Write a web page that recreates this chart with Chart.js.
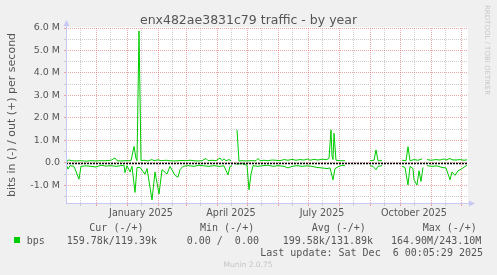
<!DOCTYPE html>
<html>
<head>
<meta charset="utf-8">
<script src="https://cdn.jsdelivr.net/npm/chart.js@4/dist/chart.umd.min.js"></script>
<style>
  html, body { margin: 0; padding: 0; background: #f0f0f0; }
  #wrap { width: 497px; height: 275px; position: relative; }
</style>
</head>
<body>
<div id="wrap"><canvas id="chartTraffic" width="497" height="275"></canvas></div>
<script>
// days counted from 1 Nov 2024 (munin "year" = 400 days)
const monthStarts = [30, 61, 92, 120, 151, 181, 212, 242, 273, 304, 334, 365, 395];
const midMonths = [14, 44, 75, 106, 134, 165, 195, 226, 256, 287, 318, 348, 379];
const labelDays = [75, 165, 256, 348];
const labelNames = ['January 2025', 'April 2025', 'July 2025', 'October 2025'];
// y grid in millions; whole numbers get a label
const yTicks = [-1.5, -1.0, -0.5, 0, 0.5, 1.0, 1.5, 2.0, 2.5, 3.0, 3.5, 4.0, 4.5, 5.0, 5.5, 6.0];

// out (+), in millions of bits per second, null = no data
const outDays = [0, 1, 3, 5, 10, 15, 20, 25, 30, 35, 40, 45, 49, 51, 55, 60, 65, 68, 70, 71, 73, 75, 78, 82, 86, 88, 92, 95, 100, 104, 108, 112, 116, 120, 124, 128, 132, 136, 140, 142, 146, 150, 154, 156, 158, 160, 163, 165, 168, 171, 173, 175, 180, 185, 190, 192, 194, 198, 202, 206, 210, 214, 218, 222, 226, 230, 234, 238, 242, 244, 248, 252, 256, 260, 263, 265, 266, 267, 268, 270, 274, 279, 290, 304, 308, 310, 312, 316, 325, 336, 340, 342, 344, 348, 352, 356, 358, 361, 365, 370, 374, 378, 380, 384, 386, 390, 394, 398, 401];
const outVals = [0.15, 0.08, 0.14, 0.10, 0.09, 0.10, 0.08, 0.10, 0.09, 0.10, 0.10, 0.12, 0.22, 0.10, 0.09, 0.10, 0.10, 0.73, 0.20, 0.10, 5.87, 0.10, 0.12, 0.09, 0.15, 0.10, 0.14, 0.10, 0.12, 0.10, 0.09, 0.10, 0.11, 0.10, 0.12, 0.10, 0.09, 0.10, 0.20, 0.10, 0.12, 0.10, 0.22, 0.10, 0.18, 0.10, 0.15, 0.10, null, 1.47, 0.08, 0.10, 0.09, 0.10, 0.10, 0.20, 0.10, 0.12, 0.10, 0.13, 0.12, 0.10, 0.15, 0.12, 0.16, 0.12, 0.15, 0.13, 0.18, 0.12, 0.16, 0.13, 0.17, 0.14, 0.20, 1.47, 0.30, 0.15, 1.32, 0.12, 0.10, 0.10, null, 0.10, 0.12, 0.58, 0.10, 0.10, null, 0.12, 0.10, 0.72, 0.10, 0.15, 0.12, 0.18, null, 0.15, 0.12, 0.15, 0.13, 0.18, 0.13, 0.20, 0.14, 0.13, 0.15, 0.12, 0.14];

// in (-), drawn below zero
const inDays = [0, 2, 4, 8, 13, 15, 20, 25, 30, 35, 40, 45, 50, 55, 58, 59, 61, 64, 66, 69, 71, 74, 79, 81, 86, 89, 93, 96, 101, 104, 109, 112, 114, 117, 122, 128, 133, 138, 143, 148, 153, 158, 162, 164, 166, 168, 170, 176, 181, 183, 185, 187, 192, 197, 202, 207, 212, 218, 222, 226, 231, 236, 241, 246, 251, 256, 261, 264, 267, 269, 273, 276, 279, 290, 304, 307, 310, 312, 316, 325, 336, 339, 342, 344, 347, 348, 351, 353, 355, 357, 358, 361, 366, 371, 376, 380, 384, 386, 389, 392, 396, 401];
const inVals = [-0.05, -0.27, -0.12, -0.15, -0.72, -0.15, -0.13, -0.15, -0.18, -0.10, -0.14, -0.12, -0.15, -0.12, -0.10, -0.43, -0.12, -0.40, -0.15, -1.31, -0.20, -0.20, -0.50, -0.25, -1.64, -0.40, -1.38, -0.30, -0.49, -0.15, -0.55, -0.63, -0.30, -0.15, -0.12, -0.15, -0.10, -0.13, -0.15, -0.12, -0.15, -0.13, -0.53, -0.15, -0.12, null, -0.05, -0.03, -0.10, -1.19, -0.50, -0.12, -0.15, -0.12, -0.10, -0.15, -0.12, -0.15, -0.22, -0.15, -0.12, -0.15, -0.13, -0.15, -0.20, -0.22, -0.25, -0.22, -0.75, -0.25, -0.15, -0.10, -0.12, null, -0.12, -0.15, -0.30, -0.15, -0.12, null, -0.15, -0.20, -0.98, -0.15, -0.25, -0.75, -0.98, -0.35, -0.82, -0.20, null, -0.12, -0.15, -0.13, -0.20, -0.22, -0.75, -0.40, -0.55, -0.35, -0.25, -0.10];

const legendHead = ['Cur (-/+)', 'Min (-/+)', 'Avg (-/+)', 'Max (-/+)'];
const legendVals = ['159.78k/119.39k', '0.00 /  0.00', '199.58k/131.89k', '164.90M/243.10M'];

const toPoints = (days, vals) => days.map((d, i) => ({ x: d, y: vals[i] == null ? null : vals[i] * 1e6 }));
const isWholeM = v => Math.abs(Math.round(v / 1e6) * 1e6 - v) < 1;

const AXIS = '#c8c8f4';
const MAJOR = 'rgba(225,110,110,0.6)';
const MINOR = 'rgba(195,195,195,0.85)';
const SANS = '"DejaVu Sans", sans-serif';
const MONO = '"DejaVu Sans Mono", monospace';

const rrdDecor = {
  id: 'rrdDecor',
  beforeDraw(chart) {
    const c = chart.ctx, a = chart.chartArea;
    c.save();
    c.fillStyle = '#ffffff';
    c.fillRect(a.left, a.top - 1, a.right - a.left, a.bottom - a.top + 1);
    c.restore();
  },
  afterDatasetsDraw(chart) {
    const c = chart.ctx, a = chart.chartArea;
    const y0 = Math.round(chart.scales.y.getPixelForValue(0)) + 0.5;
    c.save();
    c.strokeStyle = '#000000';
    c.lineWidth = 1.5;
    c.setLineDash([2, 1]);
    c.beginPath();
    c.moveTo(a.left, y0);
    c.lineTo(a.right, y0);
    c.stroke();
    c.restore();
  },
  afterDraw(chart) {
    const c = chart.ctx, a = chart.chartArea;
    c.save();
    // axes with arrows
    c.strokeStyle = AXIS;
    c.fillStyle = AXIS;
    c.lineWidth = 1;
    c.beginPath();
    c.moveTo(a.left + 0.5, a.bottom + 0.5);
    c.lineTo(a.left + 0.5, a.top - 5);
    c.moveTo(a.left, a.bottom + 0.5);
    c.lineTo(a.right + 4, a.bottom + 0.5);
    c.stroke();
    c.beginPath();
    c.moveTo(a.left + 0.5, a.top - 8);
    c.lineTo(a.left - 2.5, a.top - 2);
    c.lineTo(a.left + 3.5, a.top - 2);
    c.fill();
    c.beginPath();
    c.moveTo(a.right + 7, a.bottom + 0.5);
    c.lineTo(a.right + 1, a.bottom - 2.5);
    c.lineTo(a.right + 1, a.bottom + 3.5);
    c.fill();

    // title
    c.fillStyle = '#555555';
    c.font = '12.5px ' + SANS;
    c.textAlign = 'center';
    c.textBaseline = 'alphabetic';
    c.fillText('enx482ae3831c79 traffic - by year', 248.5, 24);

    // vertical axis title
    c.save();
    c.translate(15, 115);
    c.rotate(-Math.PI / 2);
    c.font = '11px ' + SANS;
    c.fillText('bits in (-) / out (+) per second', 0, 0);
    c.restore();

    // watermark
    c.save();
    c.translate(485, 5);
    c.rotate(Math.PI / 2);
    c.font = '7px ' + SANS;
    c.fillStyle = '#c8c8c8';
    c.textAlign = 'left';
    c.fillText('RRDTOOL / TOBI OETIKER', 0, 0);
    c.restore();

    // legend
    c.font = '10px ' + MONO;
    c.fillStyle = '#555555';
    c.textAlign = 'left';
    const colX = [89.3, 200, 311.7, 422.7];
    const valX = [66.7, 186.7, 282.7, 391];
    legendHead.forEach((t, i) => c.fillText(t, colX[i], 231));
    c.fillStyle = '#00cc00';
    c.fillRect(14, 237, 6, 6);
    c.fillStyle = '#555555';
    c.fillText('bps', 26.7, 243.5);
    legendVals.forEach((t, i) => c.fillText(t, valX[i], 243.5));
    c.textAlign = 'right';
    c.fillText('Last update: Sat Dec  6 00:05:29 2025', 483, 255.5);

    c.textAlign = 'center';
    c.font = '7.5px ' + SANS;
    c.fillStyle = '#c4c4c4';
    c.fillText('Munin 2.0.75', 248, 267);
    c.restore();
  }
};

new Chart(document.getElementById('chartTraffic').getContext('2d'), {
  type: 'line',
  data: {
    datasets: [
      { label: 'out', data: toPoints(outDays, outVals), borderColor: '#00cc00', borderWidth: 1, pointRadius: 0, spanGaps: false, tension: 0 },
      { label: 'in', data: toPoints(inDays, inVals), borderColor: '#00cc00', borderWidth: 1, pointRadius: 0, spanGaps: false, tension: 0 }
    ]
  },
  options: {
    responsive: false,
    animation: false,
    devicePixelRatio: 1,
    layout: { padding: { top: 28, right: 29, left: 0, bottom: 0 } },
    plugins: { legend: { display: false }, tooltip: { enabled: false } },
    scales: {
      x: {
        type: 'linear',
        min: 0,
        max: 402,
        afterFit: s => { s.height = 72; },
        afterBuildTicks: s => {
          s.ticks = monthStarts.concat(midMonths).sort((p, q) => p - q).map(v => ({ value: v }));
        },
        grid: {
          color: ctx => monthStarts.includes(ctx.tick.value) ? MAJOR : MINOR,
          tickLength: 3,
          lineWidth: 1
        },
        border: { display: false, dash: [1, 1] },
        ticks: {
          autoSkip: false,
          maxRotation: 0,
          padding: 2,
          color: '#555555',
          font: { family: SANS, size: 9.6 },
          callback: v => {
            const i = labelDays.indexOf(v);
            return i >= 0 ? labelNames[i] : '';
          }
        }
      },
      y: {
        min: -1.78e6,
        max: 6.0e6,
        afterFit: s => { s.width = 66; },
        afterBuildTicks: s => {
          s.ticks = yTicks.map(v => ({ value: v * 1e6 }));
        },
        grid: {
          color: ctx => isWholeM(ctx.tick.value) ? MAJOR : MINOR,
          tickLength: 2,
          lineWidth: 1
        },
        border: { display: false, dash: [1, 1] },
        ticks: {
          padding: 4,
          autoSkip: false,
          color: '#555555',
          font: { family: SANS, size: 9.5 },
          callback: v => {
            if (!isWholeM(v)) return '';
            return v === 0 ? '0.0' : (v / 1e6).toFixed(1) + ' M';
          }
        }
      }
    }
  },
  plugins: [rrdDecor]
});
</script>
</body>
</html>
